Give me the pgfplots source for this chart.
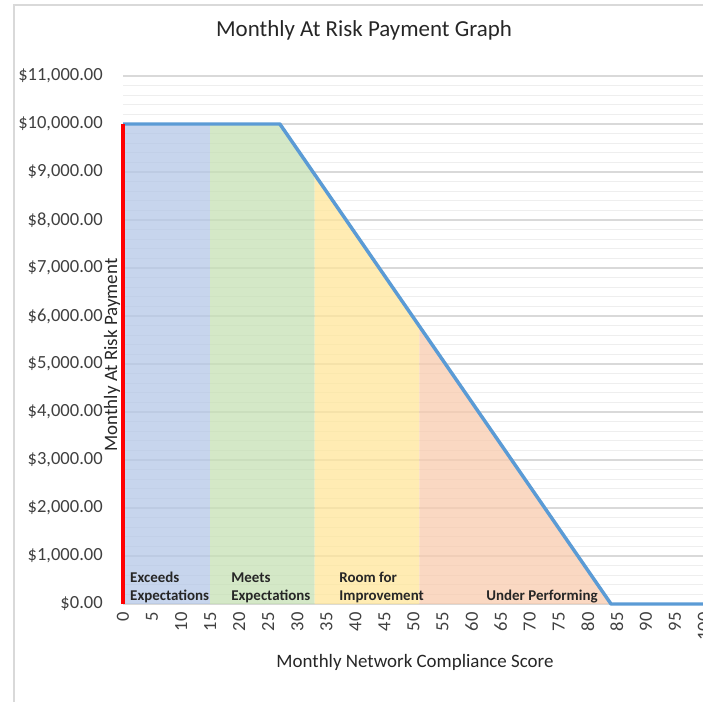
\documentclass[border=0pt]{standalone}
\usepackage{fontspec}
\setmainfont{Carlito}
\usepackage{pgfplots}
\pgfplotsset{compat=1.18}
\definecolor{txtgray}{HTML}{404040}
\definecolor{gridmaj}{HTML}{D9D9D9}
\definecolor{gridmin}{HTML}{EEEEEE}
\definecolor{fblue}{HTML}{B4C7E7}
\definecolor{fgreen}{HTML}{C5E0B4}
\definecolor{fyellow}{HTML}{FFE699}
\definecolor{forange}{HTML}{F8CBAD}
\definecolor{lineblue}{HTML}{5B9BD5}
\begin{document}
\begin{tikzpicture}
\begin{axis}[
  at={(92.25pt,72.75pt)}, anchor=origin,
  scale only axis,
  width=440.1pt, height=396pt,
  xmin=0, xmax=101, ymin=0, ymax=11000,
  clip=false,
  axis line style={draw=none},
  major tick length=0pt, minor tick length=0pt,
  scaled y ticks=false,
  ytick={0,1000,2000,3000,4000,5000,6000,7000,8000,9000,10000,11000},
  yticklabels={{\$0.00},{\$1,000.00},{\$2,000.00},{\$3,000.00},{\$4,000.00},{\$5,000.00},{\$6,000.00},{\$7,000.00},{\$8,000.00},{\$9,000.00},{\$10,000.00},{\$11,000.00}},
  minor y tick num=4,
  ymajorgrids, yminorgrids,
  major grid style={gridmaj, line width=0.8pt},
  minor grid style={gridmin, line width=0.8pt},
  xtick={0,5,...,100},
  /pgf/number format/assume math mode=true,
  ticklabel style={font=\fontsize{13.9}{16}\selectfont, text=txtgray},
  yticklabel style={anchor=east, inner sep=0pt},
  yticklabel shift=15pt,
  xticklabel style={rotate=90, anchor=east, inner sep=0pt},
  xticklabel shift=6pt,
]
% region fills
\addplot[draw=none, fill=fblue, fill opacity=0.75] coordinates {(0,10000) (15,10000)} \closedcycle;
\addplot[draw=none, fill=fgreen, fill opacity=0.75] coordinates {(15,10000) (27,10000) (33,8947)} \closedcycle;
\addplot[draw=none, fill=fyellow, fill opacity=0.75] coordinates {(33,8947) (51,5789)} \closedcycle;
\addplot[draw=none, fill=forange, fill opacity=0.75] coordinates {(51,5789) (84,0)} \closedcycle;
% payment line
\addplot[lineblue, line width=2.6pt, line join=round] coordinates {(0,10000) (27,10000) (84,0) (100,0)};
% red marker at 0
\addplot[red, line width=3.6pt] coordinates {(0,0) (0,10000)};
% region labels
\node[anchor=south west, align=left, inner sep=0pt, font=\fontsize{11.2}{13.2}\selectfont\bfseries, text=black!85] at (axis cs:1.2,20) {Exceeds\\Expectations};
\node[anchor=south west, align=left, inner sep=0pt, font=\fontsize{11.2}{13.2}\selectfont\bfseries, text=black!85] at (axis cs:18.6,20) {Meets\\Expectations};
\node[anchor=south west, align=left, inner sep=0pt, font=\fontsize{11.2}{13.2}\selectfont\bfseries, text=black!85] at (axis cs:37.2,20) {Room for\\Improvement};
\node[anchor=south west, align=left, inner sep=0pt, font=\fontsize{11.2}{13.2}\selectfont\bfseries, text=black!85] at (axis cs:62.5,20) {Under Performing};
\end{axis}
% titles
\node[font=\fontsize{17.2}{20}\selectfont, text=black!85] at (273pt,503.25pt) {Monthly At Risk Payment Graph};
\node[font=\fontsize{14.2}{17}\selectfont, text=black!85] at (311.25pt,29.25pt) {Monthly Network Compliance Score};
\node[font=\fontsize{14.2}{17}\selectfont, text=black!85, rotate=90] at (84pt,259.5pt) {Monthly At Risk Payment};
% chart border
\draw[gridmaj, line width=1.1pt] (10.5pt,-5pt) -- (10.5pt,522pt) -- (540pt,522pt);
\pgfresetboundingbox
\useasboundingbox (0,0) rectangle (527.25pt,525.75pt);
\end{tikzpicture}
\end{document}
